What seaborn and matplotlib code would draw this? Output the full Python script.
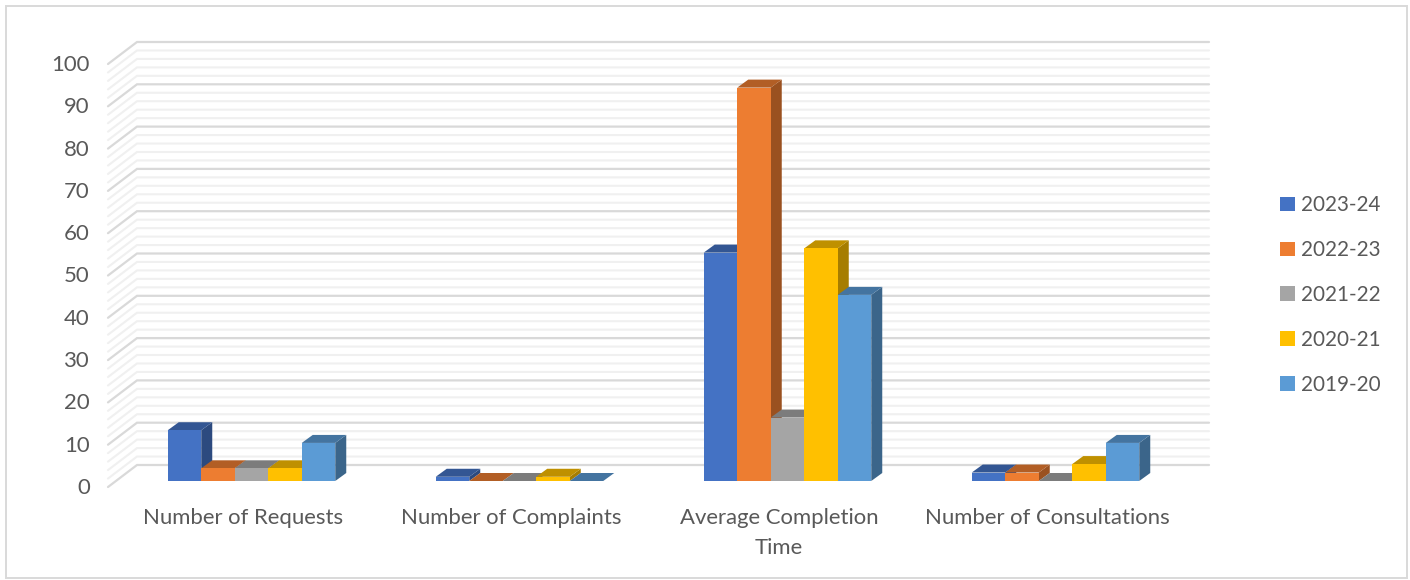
import pandas as pd
import numpy as np
import matplotlib.pyplot as plt
import matplotlib.colors as mcolors
from matplotlib.patches import Polygon, Rectangle
from matplotlib.transforms import ScaledTranslation
import seaborn as sns

categories = ["Number of Requests", "Number of Complaints", "Average Completion\nTime", "Number of Consultations"]
years = ["2023-24", "2022-23", "2021-22", "2020-21", "2019-20"]
values_2023 = [12, 1, 54, 2]
values_2022 = [3, 0, 93, 2]
values_2021 = [3, 0, 15, 0]
values_2020 = [3, 1, 55, 4]
values_2019 = [9, 0, 44, 9]
colors = ["#4472C4", "#ED7D31", "#A5A5A5", "#FFC000", "#5B9BD5"]
y_ticks = list(range(0, 101, 10))

W, H = 1410, 580
sns.set_theme(style="white")
plt.rcParams["font.family"] = ["Lato", "DejaVu Sans"]

rows = []
for year, vals in zip(years, [values_2023, values_2022, values_2021, values_2020, values_2019]):
    for cat, v in zip(categories, vals):
        rows.append({"category": cat, "year": year, "value": v})
df = pd.DataFrame(rows)

fig = plt.figure(figsize=(W / 100, H / 100), dpi=100)
# axes box in pixels: bar plane of the fake 3d chart
left, right, y0, y100 = 117.5, 1189.5, 481, 58
ax = fig.add_axes([left / W, 1 - y0 / H, (right - left) / W, (y0 - y100) / H])

sns.barplot(data=df, x="category", y="value", hue="year", hue_order=years, order=categories,
            palette=colors, width=0.625, gap=0, saturation=1, errorbar=None, linewidth=0, ax=ax)
ax.set_xlim(-0.5, 3.5)
ax.set_ylim(0, 100)
ax.patch.set_alpha(0)
sns.despine(ax=ax, left=True, bottom=True)

px_x = 4 / (right - left)   # data units per pixel
px_y = 100 / (y0 - y100)

# walls: back plane and left wall with gridlines
back_dx, back_dy = 19.5 * px_x, 16 * px_y
front_dx, front_dy = -9.5 * px_x, -6 * px_y
for v in range(0, 101, 2):
    major = v % 10 == 0
    col = "#d9d9d9" if major else "#f0f0f0"
    lw = 1.6 if major else 1.5
    ax.plot([-0.5 + front_dx, -0.5 + back_dx, 3.5 + back_dx], [v + front_dy, v + back_dy, v + back_dy],
            color=col, lw=lw, clip_on=False, zorder=1 if major else 0.5, solid_joinstyle="miter")

# depth faces of the bars
depth_x, depth_y = 11 * px_x, 8 * px_y
z = 2
bars = []
for container, col in zip(ax.containers, colors):
    for p in container.patches:
        bars.append((p.get_x(), p, col))
bars.sort(key=lambda b: b[0])
for x, p, col in bars:
    w, h = p.get_width(), p.get_height()
    rgb = np.array(mcolors.to_rgb(col))
    side = Polygon([(x + w, 0), (x + w + depth_x, depth_y), (x + w + depth_x, h + depth_y), (x + w, h)],
                   facecolor=rgb * 0.65, edgecolor="none", zorder=z)
    top = Polygon([(x, h), (x + depth_x, h + depth_y), (x + w + depth_x, h + depth_y), (x + w, h)],
                  facecolor=rgb * 0.75, edgecolor="none", zorder=z + 0.1)
    ax.add_patch(side)
    ax.add_patch(top)
    p.set_zorder(z + 0.2)
    z += 1

# tick labels
ax.set_xlabel("")
ax.set_ylabel("")
ax.set_yticks(y_ticks)
ax.set_xticks(range(len(categories)))
ax.set_xticklabels(categories)
ax.tick_params(axis="both", length=0, labelsize=15.9, labelcolor="#595959")
ax.tick_params(axis="y", pad=20)
ax.tick_params(axis="x", pad=19.5)
off_y = ScaledTranslation(0, -5 / 100, fig.dpi_scale_trans)
off_x = ScaledTranslation(-8.5 / 100, 0, fig.dpi_scale_trans)
for lab in ax.get_yticklabels():
    lab.set_transform(lab.get_transform() + off_y)
for lab in ax.get_xticklabels():
    lab.set_transform(lab.get_transform() + off_x)
    lab.set_linespacing(1.6)

# legend
handles, labels = ax.get_legend_handles_labels()
fig.legend(handles, labels, loc="center left", bbox_to_anchor=(1265.5 / W, 1 - 295 / H), frameon=False,
           fontsize=14.9, labelcolor="#595959", handlelength=0.72, handleheight=0.72,
           handletextpad=0.3, labelspacing=1.2, borderpad=0.2)
if ax.get_legend() is not None:
    ax.get_legend().remove()

# chart frame
fig.add_artist(Rectangle((6 / W, 1 - 578 / H), 1401 / W, 572 / H, transform=fig.transFigure,
                         facecolor="none", edgecolor="#d9d9d9", lw=1.4))

plt.savefig("out.png", dpi=100)
